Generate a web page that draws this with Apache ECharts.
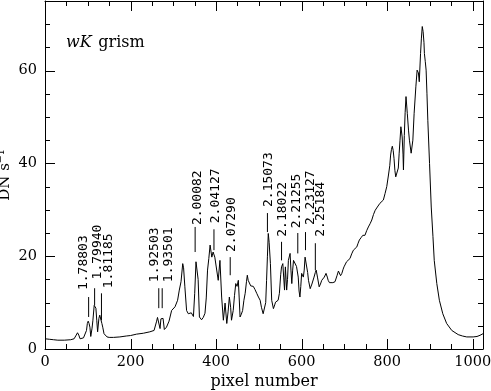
<!DOCTYPE html>
<html><head><meta charset="utf-8">
<script src="https://cdn.jsdelivr.net/npm/echarts@6/dist/echarts.min.js"></script>
<style>html,body{margin:0;padding:0;background:#fff}#c{width:491px;height:391px}</style>
</head><body><div id="c"></div>
<script>
// ---- data ----
const pixels = [0,10,20,30,45,60,68,73,76,79,82,90,94,97,99,101,103,105,107,110,112,115,117,119,121,123,126,128,130,133,135,138,141,145,150,160,175,190,200,214,230,245,255,259,261,263,266,269,271,273,276,279,284,290,296,300,304,310,314,318,322,324,327,331,335,339,342,345,347,350,353,356,358,361,366,370,374,377,380,383,386,390,393,397,401,405,409,413,417,421,425,428,431,434,436,440,443,446,449,452,454,456,459,462,465,468,471,473,475,478,481,483,487,491,495,499,503,506,510,514,516,518,520,522,524,527,530,534,537,539,542,545,548,551,553,556,558,560,562,565,567,569,573,575,577,579,581,585,588,592,594,596,598,600,604,606,608,612,614,616,620,624,629,632,634,637,641,644,647,650,653,657,660,662,665,668,673,678,683,686,688,691,694,697,699,702,705,709,713,717,721,725,729,732,735,739,743,748,752,756,760,764,768,772,777,780,783,787,791,795,799,803,806,808,810,812,814,816,818,820,823,826,828,830,832,835,837,838,840,842,844,847,850,852,856,860,863,867,870,873,875,878,880,882,884,886,887,889,891,893,895,899,903,907,910,916,922,930,939,951,966,976,986,1001,1010,1017,1024];
const counts = [2.2,2.1,2.0,1.9,1.9,2.0,2.2,3.0,3.5,3.0,2.2,2.4,2.5,4.0,5.5,6.0,5.5,4.7,2.7,4.5,6.2,9.4,9.6,8.8,6.2,3.7,6.6,7.3,7.0,5.5,4.7,3.3,3.0,2.6,2.5,2.5,2.6,2.8,2.9,3.2,3.4,3.7,4.0,4.4,6.0,6.8,6.8,4.4,6.5,6.8,6.6,4.2,4.7,6.0,8.3,8.0,9.1,10.5,12.7,14.5,18.4,17.5,13.4,8.3,7.6,7.3,7.8,7.6,7.0,12.0,18.8,19.1,15.0,6.9,6.3,6.8,7.7,11.0,17.0,19.5,22.4,19.8,20.9,19.8,19.5,14.8,19.1,11.2,6.2,9.9,5.5,8.0,11.2,9.0,6.2,8.3,11.5,14.1,13.5,14.8,11.0,6.9,7.5,8.3,10.5,12.0,14.5,15.9,14.8,14.8,13.6,13.4,13.5,12.8,12.0,11.2,10.5,9.0,7.6,7.3,10.0,14.8,20.0,24.9,23.0,18.4,10.5,8.7,9.5,10.1,9.9,10.5,12.0,16.0,17.7,18.4,15.5,12.7,17.7,12.7,15.0,19.1,20.6,17.0,14.1,17.0,19.1,19.5,17.8,15.5,12.5,11.2,13.5,16.3,15.5,17.0,19.8,19.5,16.5,14.8,13.0,14.0,15.5,16.5,17.0,15.5,13.4,14.0,14.8,15.2,15.5,16.3,15.5,14.8,14.3,14.2,14.3,14.5,15.9,16.8,16.6,15.8,16.3,17.2,17.7,18.0,18.8,19.0,19.5,20.5,21.3,21.5,22.0,22.8,23.5,24.0,24.5,24.5,25.5,26.3,27.0,27.8,29.0,29.9,30.6,30.5,31.4,31.5,32.1,33.5,35.0,37.5,39.5,41.8,43.0,43.7,42.8,41.0,38.5,37.1,36.8,39.0,42.2,45.0,47.9,45.7,42.0,38.6,46.0,51.0,54.4,50.8,47.0,45.0,42.2,45.0,50.8,56.5,60.1,59.5,57.6,63.7,67.0,69.5,68.4,66.0,63.7,62.0,60.1,55.0,49.3,40.0,30.6,24.2,19.1,14.1,10.5,7.6,5.5,4.0,3.1,2.8,2.6,2.6,2.7,2.95,3.3];
const lineLabels = ['1.78803','1.79940','1.81185','1.92503','1.93501','2.00082','2.04127','2.07290','2.15073','2.18022','2.21255','2.23127','2.25184'];
const linePixels = [102,116,132,266,274,351,395,433,520,553,591,609,632];
const xTicks = [0,200,400,600,800,1000];
const yTicks = [0,20,40,60];
const xMax = 1024, yMax = 75, xMinorStep = 50, yMinorStep = 5;
const titleText = ['wK','grism'];
// ---- layout for annotations: [lineBottom, lineTop, textBottom] in value units, dx in px ----
const annLayout = [
  [6.9,11.2,12.7,-5],[9.4,13.1,15.0,3],[6.2,12.0,13.1,7],
  [8.8,13.1,14.4,-4],[8.8,13.1,14.4,6],
  [20.9,26.3,26.7,2],[21.3,25.8,27.1,2],[15.9,19.8,20.9,1],
  [25.2,29.3,30.6,1],[19.1,23.1,24.2,1],[20.6,25.0,26.0,-1],[21.3,25.2,26.7,5],[17.0,22.8,24.2,5]
];

const serif = 'DejaVu Serif';
const chart = echarts.init(document.getElementById('c'), null, {renderer:'canvas'});
const lineData = pixels.map((p,i)=>[p,counts[i]]);
const annData = linePixels.map((p,i)=>[p,i]);

function axis(base){
  return Object.assign({
    type:'value', min:0, splitLine:{show:false},
    axisLine:{show:true, onZero:false, lineStyle:{color:'#000',width:1}},
    axisTick:{show:false}, minorTick:{show:false},
    axisLabel:{show:false}
  }, base);
}
const titleGraphic = {
  type:'text', left:66, top:35,
  style:{text:'{i|'+titleText[0]+'}  {r|'+titleText[1]+'}', fill:'#000',
    rich:{i:{fontFamily:serif, fontStyle:'italic', fontSize:16, fill:'#000'},
          r:{fontFamily:serif, fontSize:16, fill:'#000'}}}
};
const option = {
  animation:false,
  backgroundColor:'#fff',
  grid:{left:45, right:8, top:1, bottom:42, containLabel:false, outerBoundsMode:'none'},
  xAxis:[
    axis({max:xMax, interval:200, position:'bottom',
      axisLabel:{show:true, color:'#000', fontFamily:serif, fontSize:14.5, margin:6,
        formatter:v=> xTicks.indexOf(v)>=0 ? String(v) : ''},
      name:'pixel number', nameLocation:'middle', nameGap:25, nameMoveOverlap:false,
      nameTextStyle:{color:'#000', fontFamily:serif, fontSize:16}}),
    axis({max:xMax, interval:200, position:'top'})
  ],
  yAxis:[
    axis({max:yMax, interval:20, position:'left',
      axisLabel:{show:true, color:'#000', fontFamily:serif, fontSize:14.5, margin:8,
        formatter:v=> yTicks.indexOf(v)>=0 ? String(v) : ''},
      name:'DN s\u207B\u00B9', nameLocation:'middle', nameGap:32, nameMoveOverlap:false,
      nameTextStyle:{color:'#000', fontFamily:serif, fontSize:15}}),
    axis({max:yMax, interval:20, position:'right'})
  ],
  graphic:[titleGraphic],
  series:[
    {type:'line', xAxisIndex:0, yAxisIndex:0, data:lineData, showSymbol:false, symbol:'none',
     lineStyle:{color:'#000', width:1}, silent:true},
    {type:'custom', xAxisIndex:0, yAxisIndex:0, data:annData, silent:true, clip:false,
     renderItem:function(params, api){
       const px = api.value(0), i = api.value(1);
       const L = annLayout[i];
       const b = api.coord([px, L[0]]), t = api.coord([px, L[1]]), tx = api.coord([px, L[2]]);
       return {type:'group', children:[
         {type:'line', shape:{x1:b[0], y1:b[1], x2:t[0], y2:t[1]}, style:{stroke:'#000', lineWidth:1}},
         {type:'text', x:tx[0]+L[3], y:tx[1], rotation:Math.PI/2,
          style:{text:lineLabels[i], fill:'#000', font:'13px "DejaVu Sans Mono"', align:'left', verticalAlign:'middle'}}
       ]};
     }}
  ]
};
chart.setOption(option);

// ---- tick marks on all four sides, placed through the axes' scales ----
const finder = {xAxisIndex:0, yAxisIndex:0};
const p0 = chart.convertToPixel(finder, [0, 0]);
const p1 = chart.convertToPixel(finder, [xMax, yMax]);
const xl = p0[0], yb = p0[1], xr = p1[0], yt = p1[1];
const tickGraphics = [];
function seg(x1, y1, x2, y2){
  tickGraphics.push({type:'line', silent:true, z:50,
    shape:{x1:x1, y1:y1, x2:x2, y2:y2}, style:{stroke:'#000', lineWidth:1}});
}
for (let v = xMinorStep; v < xMax; v += xMinorStep) {
  const len = xTicks.indexOf(v) >= 0 ? 10 : 5;
  const x = Math.round(chart.convertToPixel(finder, [v, 0])[0]) + 0.5;
  seg(x, yb, x, yb - len);
  seg(x, yt, x, yt + len);
}
for (let v = yMinorStep; v < yMax; v += yMinorStep) {
  const len = yTicks.indexOf(v) >= 0 ? 10 : 5;
  const y = Math.round(chart.convertToPixel(finder, [0, v])[1]) + 0.5;
  seg(xl, y, xl + len, y);
  seg(xr, y, xr - len, y);
}
chart.setOption({graphic:[titleGraphic].concat(tickGraphics)});
</script></body></html>
